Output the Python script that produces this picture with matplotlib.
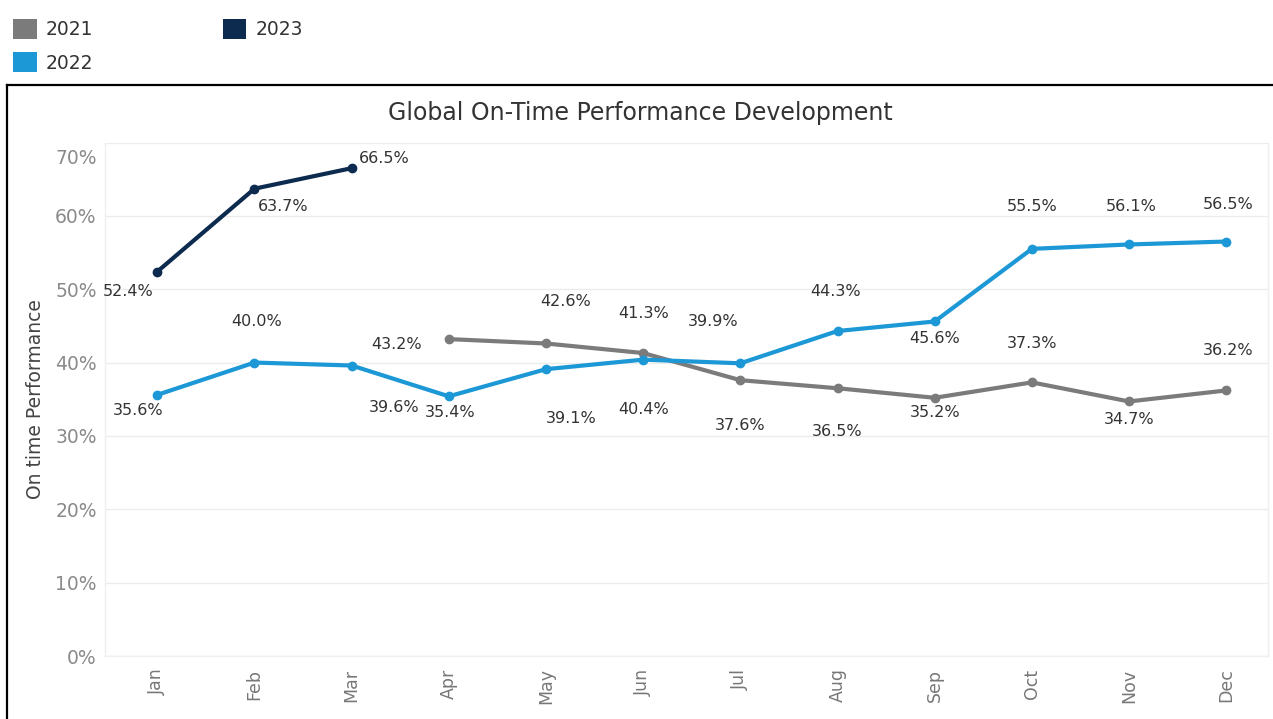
import matplotlib
matplotlib.use("Agg")
import matplotlib.pyplot as plt
from matplotlib.patches import Patch
from matplotlib.lines import Line2D
from matplotlib.transforms import ScaledTranslation

months = ["Jan", "Feb", "Mar", "Apr", "May", "Jun", "Jul", "Aug", "Sep", "Oct", "Nov", "Dec"]

# 2021 data starts in April
months_2021 = ["Apr", "May", "Jun", "Jul", "Aug", "Sep", "Oct", "Nov", "Dec"]
vals_2021 = [43.2, 42.6, 41.3, 37.6, 36.5, 35.2, 37.3, 34.7, 36.2]

months_2022 = months
vals_2022 = [35.6, 40.0, 39.6, 35.4, 39.1, 40.4, 39.9, 44.3, 45.6, 55.5, 56.1, 56.5]

months_2023 = ["Jan", "Feb", "Mar"]
vals_2023 = [52.4, 63.7, 66.5]

yticks = [0, 10, 20, 30, 40, 50, 60, 70]

# label placement (pixel offsets), style only
off_2021 = [(-52, -5), (20, 42), (0, 40), (0, -45), (0, -43), (0, -15), (0, 39), (0, -18), (2, 40)]
off_2022 = [(-19, -16), (2, 41), (42, -42), (1, -16), (25, -49), (0, -50), (-27, 42), (-2, 40), (0, -17), (0, 42), (2, 38), (2, 37)]
off_2023 = [(-29, -20), (29, -18), (33, 10)]

c2021 = "#7b7b7b"
c2022 = "#1c98d6"
c2023 = "#0d2a4f"

W, H = 1273, 719
fig = plt.figure(figsize=(W / 100, H / 100), dpi=100)
ax = fig.add_axes([105 / W, 1 - 656 / H, (1268 - 105) / W, (656 - 142.5) / H])

idx = {m: i for i, m in enumerate(months)}

def draw(ms, vs, color, offs):
    xs = [idx[m] for m in ms]
    ax.plot(xs, vs, color=color, lw=3.0, marker="o", ms=6, solid_capstyle="round", zorder=3)
    for x, v, (dx, dy) in zip(xs, vs, offs):
        ax.annotate(f"{v:.1f}%", (x, v), xytext=(dx * 0.72, dy * 0.72), textcoords="offset points",
                    ha="center", va="center", fontsize=11.5, color="#333333", zorder=4)

draw(months_2021, vals_2021, c2021, off_2021)
draw(months_2022, vals_2022, c2022, off_2022)
draw(months_2023, vals_2023, c2023, off_2023)

ax.set_xlim(-0.538, 11.43)
ax.set_ylim(0, 70)
ax.set_yticks(yticks)
ax.set_yticklabels([f"{t}%" for t in yticks])
ax.set_xticks(range(12))
ax.set_xticklabels(months, rotation=90)
ax.tick_params(axis="y", length=0, pad=6, labelsize=13.5, labelcolor="#8a8a8a")
ax.tick_params(axis="x", length=0, pad=9, labelsize=12.5, labelcolor="#777777")
for lab in ax.get_xticklabels():
    lab.set_va("top")
# top label sits slightly lower than its gridline in the reference
top_lab = ax.get_yticklabels()[-1]
top_lab.set_transform(top_lab.get_transform() + ScaledTranslation(0, -14 / 100, fig.dpi_scale_trans))
ax.grid(axis="y", color="#ececec", lw=1)
ax.set_axisbelow(True)
ax.spines["top"].set_visible(False)
for s in ["left", "right", "bottom"]:
    ax.spines[s].set_color("#efefef")
    ax.spines[s].set_linewidth(1)
ax.set_ylabel("On time Performance", fontsize=13.5, color="#444444", labelpad=7)

fig.text(640 / W, 1 - 113 / H, "Global On-Time Performance Development", ha="center", va="center",
         fontsize=17, color="#333333")

# frame lines
fig.add_artist(Line2D([7 / W, 1], [1 - 85 / H, 1 - 85 / H], color="black", lw=1.6, transform=fig.transFigure))
fig.add_artist(Line2D([7 / W, 7 / W], [0, 1 - 85 / H], color="black", lw=1.6, transform=fig.transFigure))

handles = [Patch(facecolor=c2021, label="2021"), Patch(facecolor=c2022, label="2022"),
           Patch(facecolor=c2023, label="2023")]
fig.legend(handles=handles, ncol=2, loc="upper left", bbox_to_anchor=(0 / W, 1 - 6 / H),
           frameon=False, fontsize=13.5, handlelength=1.25, handleheight=1.25, handletextpad=0.5,
           labelspacing=0.7, columnspacing=6.9, borderpad=0.2, labelcolor="#333333")

fig.savefig("out.png", dpi=100)
